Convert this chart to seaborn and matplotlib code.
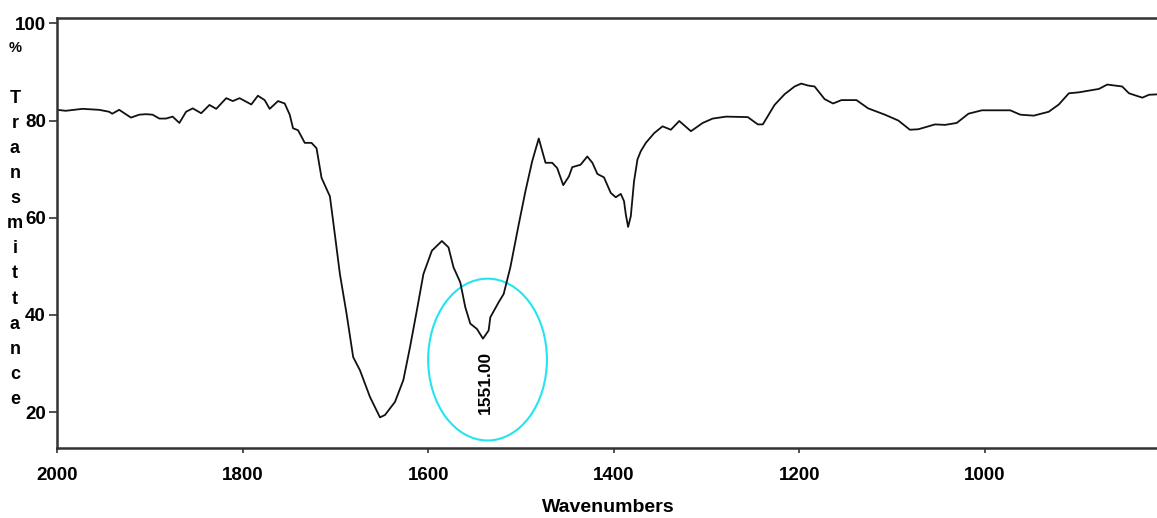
import matplotlib
matplotlib.use("Agg")
import matplotlib.pyplot as plt
from matplotlib.patches import Ellipse
import seaborn as sns
import pandas as pd

wavenumber = [2000, 1990.6, 1972.6, 1954.6, 1943.8, 1940.5, 1933.0, 1920.3, 1911.4, 1904.1,
              1897.0, 1889.7, 1882.5, 1875.4, 1868.1, 1860.9, 1853.7, 1844.6, 1835.7, 1828.4,
              1817.6, 1810.5, 1803.2, 1790.6, 1783.5, 1776.2, 1770.8, 1761.8, 1754.6, 1749.2,
              1745.6, 1740.2, 1733.0, 1725.7, 1720.3, 1714.9, 1705.9, 1702.4, 1695.1, 1687.9,
              1680.8, 1673.5, 1662.7, 1651.9, 1646.5, 1635.7, 1626.7, 1619.5, 1612.2, 1605.1,
              1596.0, 1585.2, 1578.1, 1572.7, 1565.4, 1560.0, 1554.6, 1547.4, 1540.9, 1534.8,
              1533.0, 1524.0, 1518.6, 1511.4, 1502.4, 1495.1, 1487.9, 1480.8, 1473.5, 1466.3,
              1460.9, 1454.4, 1448.3, 1444.7, 1435.7, 1428.5, 1423.0, 1417.6, 1410.5, 1403.2,
              1397.8, 1392.4, 1388.9, 1387.0, 1384.5, 1381.6, 1378.1, 1374.4, 1370.8, 1365.4,
              1356.4, 1347.4, 1338.4, 1329.4, 1316.8, 1304.1, 1293.3, 1278.9, 1255.5, 1244.7,
              1239.3, 1226.7, 1215.9, 1205.1, 1197.9, 1190.6, 1183.5, 1172.7, 1163.6, 1154.6,
              1138.4, 1125.8, 1107.8, 1093.3, 1080.8, 1071.7, 1053.7, 1042.9, 1030.3, 1017.7,
              1003.2, 972.7, 961.8, 947.4, 931.2, 920.3, 909.5, 898.7, 877.1, 868.1,
              852.0, 844.7, 830.3, 823.1, 812.3]
transmittance = [82.2, 82.0, 82.4, 82.2, 81.8, 81.4, 82.2, 80.6, 81.2, 81.3,
                 81.2, 80.4, 80.4, 80.8, 79.5, 81.8, 82.5, 81.5, 83.2, 82.4,
                 84.6, 84.0, 84.6, 83.3, 85.1, 84.2, 82.4, 84.0, 83.5, 81.2,
                 78.4, 78.0, 75.4, 75.4, 74.3, 68.2, 64.4, 59.3, 48.4, 40.2,
                 31.3, 28.6, 23.1, 18.9, 19.4, 22.1, 26.6, 33.4, 40.9, 48.4,
                 53.2, 55.2, 53.9, 49.8, 46.7, 41.6, 38.2, 37.1, 35.1, 36.8,
                 39.5, 42.6, 44.3, 49.8, 58.6, 65.5, 71.6, 76.3, 71.3, 71.3,
                 70.2, 66.7, 68.5, 70.4, 70.9, 72.6, 71.3, 69.0, 68.3, 65.1,
                 64.2, 64.9, 63.4, 60.7, 58.1, 60.3, 67.5, 72.0, 73.7, 75.4,
                 77.4, 78.8, 78.1, 79.9, 77.8, 79.5, 80.4, 80.8, 80.7, 79.2,
                 79.2, 83.2, 85.4, 87.0, 87.6, 87.2, 87.0, 84.4, 83.5, 84.2,
                 84.2, 82.5, 81.2, 80.0, 78.1, 78.2, 79.2, 79.1, 79.5, 81.4,
                 82.1, 82.1, 81.2, 81.0, 81.8, 83.3, 85.6, 85.8, 86.5, 87.4,
                 87.0, 85.6, 84.7, 85.3, 85.4]

x_ticks = [2000, 1800, 1600, 1400, 1200, 1000]
y_ticks = [20, 40, 60, 80, 100]
peak_label = "1551.00"
peak_pos = (1538, 26)
ellipse_center = (1536, 30.8)
ellipse_size = (128, 33.3)

sns.set_style("white")
plt.rcParams['font.family'] = ['Liberation Sans', 'DejaVu Sans']
plt.rcParams['text.color'] = 'black'
plt.rcParams['axes.labelcolor'] = 'black'
plt.rcParams['xtick.color'] = 'black'
plt.rcParams['ytick.color'] = 'black'

fig = plt.figure(figsize=(11.57, 5.18), dpi=100)
ax = fig.add_axes([57/1157, 1 - 448/518, 1 - 57/1157 + 0.002, (448 - 17.5)/518])

df = pd.DataFrame({"wn": wavenumber, "T": transmittance})
sns.lineplot(data=df, x="wn", y="T", sort=False, estimator=None, ax=ax,
             color="#111111", linewidth=1.3)

ax.set_xlim(2000, 812)
ax.set_ylim(12.6, 101.2)
ax.set_xticks(x_ticks)
ax.set_xticklabels([str(v) for v in x_ticks], fontsize=13.5, fontweight="bold")
ax.set_yticks(y_ticks)
ax.set_yticklabels([str(v) for v in y_ticks], fontsize=13.5, fontweight="bold")
ax.tick_params(axis="x", bottom=True, direction="out", length=3.5, width=1.2, pad=10,
               color="#333333", labelcolor="black")
ax.tick_params(axis="y", left=True, direction="out", length=6, width=1.2, pad=2,
               color="#333333", labelcolor="black")
ax.set_xlabel("Wavenumbers", fontsize=14, fontweight="bold", labelpad=11, color="black")
ax.set_ylabel("")
for side in ["left", "bottom", "top"]:
    ax.spines[side].set_visible(True)
    ax.spines[side].set_color("#333333")
    ax.spines[side].set_linewidth(1.8)
ax.spines["right"].set_visible(False)

ax.add_patch(Ellipse(ellipse_center, ellipse_size[0], ellipse_size[1], fill=False,
                     edgecolor="#22e5f0", linewidth=1.5))
ax.text(peak_pos[0], peak_pos[1], peak_label, rotation=90, ha="center", va="center",
        fontsize=12.5, fontweight="bold", color="black")

# stacked y-axis label
letters = ["%", "", "T", "r", "a", "n", "s", "m", "i", "t", "t", "a", "n", "c", "e"]
top_px, step_px = 48, 25.1
for i, ch in enumerate(letters):
    if ch:
        fig.text(15/1157, 1 - (top_px + i*step_px)/518, ch, ha="center", va="center",
                 fontsize=13 if ch != "%" else 10.5, fontweight="bold", color="black")

fig.savefig("out.png", dpi=100)
